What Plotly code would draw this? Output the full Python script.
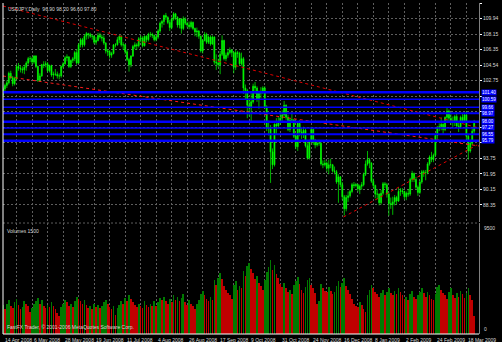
import plotly.graph_objects as go

# ---------------- data ----------------
bar_index = list(range(245))

opens = [101.6,101.1,101.8,102.2,102.5,103.6,103.1,102.4,103.0,104.4,
104.2,104.1,104.0,104.3,104.8,105.3,105.3,104.9,105.6,104.4,
102.8,103.3,104.6,104.6,104.7,103.9,104.5,103.4,103.5,103.5,
103.3,103.3,104.4,104.7,105.4,105.5,104.4,105.1,105.3,106.0,
104.8,106.9,107.5,106.9,107.9,108.2,108.1,107.9,107.9,107.2,
107.4,108.0,107.8,107.7,107.1,106.2,106.1,105.7,105.9,106.9,
106.9,107.5,107.9,106.9,106.9,106.1,105.2,104.6,105.6,106.7,
106.9,106.8,107.6,107.7,106.8,107.9,107.5,108.1,108.1,108.0,
107.5,107.8,108.5,109.4,109.6,110.3,110.1,109.5,108.9,109.9,
110.5,110.1,109.2,109.9,108.8,109.9,109.4,109.2,109.0,109.5,
108.8,108.4,108.5,107.9,106.2,107.4,108.1,107.2,107.8,107.0,
107.8,104.9,104.8,104.6,105.8,107.4,105.3,105.7,106.0,106.3,
106.0,104.3,106.0,105.9,104.7,105.3,101.9,101.6,99.9,99.6,
100.3,102.1,101.9,100.6,101.3,101.5,101.9,99.7,97.2,97.3,
94.5,93.0,97.7,97.5,98.0,98.4,98.8,99.9,98.5,97.1,
98.2,98.2,96.3,95.1,97.8,96.8,96.5,97.0,95.2,93.8,
95.8,97.1,95.6,95.3,95.5,95.5,93.1,93.0,93.2,92.6,
93.0,93.0,92.3,92.2,91.0,91.6,90.7,89.3,87.9,89.2,
89.4,89.9,90.7,90.6,90.7,90.2,90.5,90.7,91.9,93.1,
93.6,93.2,91.1,90.6,89.6,89.6,88.6,89.7,90.8,90.7,
89.6,88.5,88.4,88.7,89.2,88.8,89.9,90.0,89.9,89.3,
89.7,89.6,91.3,92.0,91.3,90.4,89.8,91.0,92.2,92.1,
92.1,93.1,93.9,93.6,94.1,96.4,97.3,97.4,97.7,97.1,
98.5,99.2,98.4,98.1,97.9,98.6,97.5,97.4,98.5,98.1,
98.8,96.3,94.6,95.5,96.9]

highs = [101.8,102.0,102.4,102.8,103.8,103.9,103.3,103.2,104.6,104.8,
104.5,104.4,104.6,105.0,105.5,105.6,105.5,105.7,105.7,104.5,
103.6,104.7,105.0,105.0,104.9,104.6,104.6,103.8,104.1,103.8,
103.6,104.5,104.9,105.6,105.8,105.6,105.2,105.5,106.2,106.4,
107.1,107.7,107.7,108.1,108.4,108.3,108.3,108.1,108.0,107.8,
108.3,108.3,108.1,108.0,107.2,106.4,106.3,106.1,107.0,107.1,
107.8,108.0,108.0,107.2,107.0,106.3,105.4,105.7,106.9,107.2,
107.1,107.8,108.0,107.9,108.0,108.0,108.3,108.4,108.3,108.1,
108.0,108.7,109.6,109.8,110.4,110.6,110.2,109.8,110.1,110.7,
110.6,110.2,110.0,110.0,110.2,110.1,109.6,109.6,109.7,109.6,
108.9,108.9,108.6,108.0,107.5,108.4,108.3,108.0,108.0,108.0,
107.9,105.8,105.3,106.2,108.0,107.5,106.0,106.4,106.6,106.4,
106.1,106.3,106.2,106.1,106.0,105.5,102.3,101.8,100.7,101.4,
102.4,102.6,102.1,101.6,102.0,102.1,102.1,99.9,98.1,97.6,
94.9,97.8,98.4,98.6,99.1,99.3,100.4,100.0,98.8,98.4,
99.1,98.3,96.5,97.9,98.2,97.3,97.4,97.2,95.5,95.9,
97.4,97.2,96.0,95.8,95.9,95.6,93.5,93.6,93.4,93.6,
93.7,93.1,92.8,92.4,91.9,91.7,91.0,89.5,89.5,89.9,
90.1,90.9,91.0,90.9,90.8,90.7,91.0,92.1,93.5,94.6,
93.8,93.3,91.4,90.7,90.2,89.7,90.1,91.0,91.0,90.9,
89.8,89.2,89.3,89.5,89.4,90.4,90.3,90.3,90.0,89.9,
90.2,91.5,92.3,92.1,91.6,90.6,91.2,92.4,92.4,92.4,
93.3,94.1,94.5,94.3,96.5,97.5,97.8,98.5,97.8,98.6,
99.7,99.4,99.1,98.6,98.8,98.9,97.9,98.7,98.9,99.0,
99.2,96.6,95.9,97.3,98.2]

lows = [100.8,100.9,101.4,101.9,102.3,102.9,102.1,102.2,102.8,103.9,
103.7,103.6,103.5,103.9,104.6,104.9,104.6,104.7,104.2,102.6,
102.6,103.2,104.2,104.3,103.7,103.7,103.2,102.9,103.3,103.0,
102.9,103.1,104.2,104.6,105.0,104.2,104.2,104.8,105.0,104.6,
104.7,106.6,106.6,106.7,107.5,107.6,107.7,107.5,107.0,106.9,
107.3,107.6,107.3,106.9,105.9,105.6,105.3,105.4,105.8,106.6,
106.8,107.1,106.7,106.3,105.8,105.0,103.8,104.3,105.5,106.4,
106.3,106.6,107.2,106.6,106.7,107.2,107.3,107.8,107.7,107.3,
107.3,107.6,108.3,108.9,109.2,109.8,109.3,108.5,108.7,109.7,
109.8,108.9,108.8,108.2,108.6,109.2,108.9,108.7,108.8,108.6,
107.9,107.8,107.6,106.0,105.9,107.3,107.0,107.0,106.8,106.9,
104.6,104.0,104.3,103.5,105.6,105.1,105.0,105.4,105.8,105.5,
103.6,104.0,105.4,104.5,104.5,101.2,100.6,98.4,98.6,97.9,
100.1,101.2,100.3,99.5,100.7,101.2,99.5,96.9,96.4,90.9,
92.5,92.8,96.6,97.2,97.6,98.0,98.6,98.2,96.9,96.8,
97.9,96.1,94.8,94.6,96.3,96.0,96.1,95.0,93.6,93.6,
95.6,95.3,94.9,95.1,95.2,92.9,92.6,92.8,92.2,91.9,
92.6,92.1,91.9,90.8,88.6,90.4,88.9,87.1,87.6,88.7,
89.2,89.7,90.3,90.4,89.9,89.6,90.1,90.5,91.7,92.9,
92.6,90.9,90.3,89.1,89.0,88.3,88.4,89.5,90.3,89.2,
87.1,87.9,87.2,88.3,88.4,88.7,89.4,89.6,89.0,88.9,
89.3,89.4,91.0,91.0,90.2,89.4,89.6,90.8,91.6,91.2,
91.9,92.9,93.3,93.3,94.0,96.0,96.9,97.0,96.6,96.9,
98.0,98.0,97.6,97.4,97.5,97.4,96.8,97.2,97.8,97.9,
95.9,93.6,94.4,95.3,96.6]

closes = [101.1,101.8,102.2,102.5,103.6,103.1,102.4,103.0,104.4,104.2,
104.1,104.0,104.3,104.8,105.3,105.3,104.9,105.6,104.4,102.8,
103.3,104.6,104.6,104.7,103.9,104.5,103.4,103.5,103.5,103.3,
103.3,104.4,104.7,105.4,105.5,104.4,105.1,105.3,106.0,104.8,
106.9,107.5,106.9,107.9,108.2,108.1,107.9,107.9,107.2,107.4,
108.0,107.8,107.7,107.1,106.2,106.1,105.7,105.9,106.9,106.9,
107.5,107.9,106.9,106.9,106.1,105.2,104.6,105.6,106.7,106.9,
106.8,107.6,107.7,106.8,107.9,107.5,108.1,108.1,108.0,107.5,
107.8,108.5,109.4,109.6,110.3,110.1,109.5,108.9,109.9,110.5,
110.1,109.2,109.9,108.8,109.9,109.4,109.2,109.0,109.5,108.8,
108.4,108.5,107.9,106.2,107.4,108.1,107.2,107.8,107.0,107.8,
104.9,104.8,104.6,105.8,107.4,105.3,105.7,106.0,106.3,106.0,
104.3,106.0,105.9,104.7,105.3,101.9,101.6,99.9,99.6,100.3,
102.1,101.9,100.6,101.3,101.5,101.9,99.7,97.2,97.3,94.5,
93.0,97.7,97.5,98.0,98.4,98.8,99.9,98.5,97.1,98.2,
98.2,96.3,95.1,97.8,96.8,96.5,97.0,95.2,93.8,95.8,
97.1,95.6,95.3,95.5,95.5,93.1,93.0,93.2,92.6,93.0,
93.0,92.3,92.2,91.0,91.6,90.7,89.3,87.9,89.2,89.4,
89.9,90.7,90.6,90.7,90.2,90.5,90.7,91.9,93.1,93.6,
93.2,91.1,90.6,89.6,89.6,88.6,89.7,90.8,90.7,89.6,
88.5,88.4,88.7,89.2,88.8,89.9,90.0,89.9,89.3,89.7,
89.6,91.3,92.0,91.3,90.4,89.8,91.0,92.2,92.1,92.1,
93.1,93.9,93.6,94.1,96.4,97.3,97.4,97.7,97.1,98.5,
99.2,98.4,98.1,97.9,98.6,97.5,97.4,98.5,98.1,98.8,
96.3,94.6,95.5,96.9,97.8]

volumes = [2300,2500,2100,2600,2900,2400,2200,2700,3000,2500,
2100,2300,2800,2600,2400,1900,2200,2600,2800,3100,
2600,2900,2400,2200,2500,2300,2700,2400,2100,1800,
1500,2300,2600,2900,2700,2400,2600,2300,2800,3200,
3000,2800,2600,2900,2500,2200,2400,2100,2600,2300,
2500,2200,2400,2700,2900,2600,2300,2100,2400,1600,
2200,2500,2800,2600,3100,2800,3300,3000,2700,2500,
2300,2600,2400,2200,2800,2500,2300,2600,2400,2800,
2400,2700,3100,2900,3200,2800,2600,3000,2700,3300,
2900,3200,2800,3100,3400,2700,2500,2900,2600,2400,
2100,2600,2900,3400,3700,3300,3000,2800,3200,2900,
4600,4200,4800,5200,4700,4100,3800,3500,3300,3000,
4200,4500,3800,4100,3900,5400,5000,5800,6100,5600,
5200,4700,5000,4400,4100,3800,4600,5300,5700,6300,
5500,5900,5100,4800,4300,4000,4400,3900,3600,3800,
3400,4200,4500,4900,4300,3800,3500,4000,4600,4800,
4200,3900,3500,2600,2800,4300,3900,3700,3600,4000,
3700,3400,3600,4100,4500,4000,4400,4800,4100,3800,
3400,3000,2600,2400,2300,2700,2500,2100,1900,3300,
3800,4200,3900,3600,3400,3200,3500,3800,3300,3600,
3900,3500,3300,3700,3400,3900,3600,3300,3000,3200,
2900,3400,3700,3200,3000,3300,3600,3900,3500,3200,
3600,3300,3000,2900,3400,4000,4200,3800,3500,3300,
3000,3600,3900,3300,3100,3500,3200,3700,3400,3100,
3500,3900,3300,2900,1500]

date_label_bars = [1,16,32,48,64,80,96,112,128,144,160,176,192,208,224,240]
date_labels = ["14 Apr 2008","6 May 2008","28 May 2008","19 Jun 2008","11 Jul 2008",
               "4 Aug 2008","26 Aug 2008","17 Sep 2008","9 Oct 2008","31 Oct 2008",
               "24 Nov 2008","16 Dec 2008","8 Jan 2009","2 Feb 2009","24 Feb 2009",
               "18 Mar 2009"]

price_ticks = [111.75,109.94,108.15,106.35,104.54,102.75,100.95,99.15,97.35,95.55,
               93.75,91.95,90.15,88.35]
# scale labels hidden behind the level boxes on the right axis
covered_ticks = [100.95,99.15,97.35,95.55]

level_prices = [101.40,100.59,99.66,98.97,98.00,97.27,96.55,95.79]
level_widths = [2.5,1.5,1.5,2,2.5,1.5,2,2.5]

trend_lines = {
    "A": ([1,246.5],[111.40,97.27]),
    "B": ([1,246.5],[103.29,95.18]),
    "C": ([176.6,245.5],[86.95,95.30]),
}
trend_colors = {"A":"#e00000","B":"#ff1a1a","C":"#e00000"}

volume_max = 9500
symbol_title = "USDJPY,Daily"
copyright_text = "FastFX Trader, \u00a9 2001-2006 MetaQuotes Software Corp."

# ---------------- figure ----------------
FONT = "Liberation Sans"
TXT = "#d8d8d8"
GRID = "#5e5e5e"
X_RANGE = [1.0, 246.5]
main_dom = [0.3384, 1.0]
vol_dom = [0.0, 0.3353]

vol_colors = ["#007a00"]
for k in range(1, len(volumes)):
    vol_colors.append("#007a00" if volumes[k] > volumes[k-1] else "#c00000")

fig = go.Figure()
fig.add_trace(go.Candlestick(
    x=bar_index, open=opens, high=highs, low=lows, close=closes,
    increasing=dict(line=dict(color="#00ff00", width=0.7), fillcolor="#00ff00"),
    decreasing=dict(line=dict(color="#00ff00", width=0.7), fillcolor="#00ff00"),
    whiskerwidth=0, xaxis="x", yaxis="y", hoverinfo="skip", showlegend=False))

for name, (xs, ys) in trend_lines.items():
    fig.add_trace(go.Scatter(x=xs, y=ys, mode="lines", xaxis="x", yaxis="y",
                             line=dict(color=trend_colors[name], width=1, dash="3px,3px"),
                             hoverinfo="skip", showlegend=False))

fig.add_trace(go.Bar(x=bar_index, y=volumes, marker=dict(color=vol_colors, line=dict(width=0)),
                     width=0.35, xaxis="x2", yaxis="y2", hoverinfo="skip", showlegend=False))

shapes = []
for p, w in zip(level_prices, level_widths):
    shapes.append(dict(type="line", xref="paper", yref="y", x0=0, x1=1, y0=p, y1=p,
                       line=dict(color="#0000ff", width=w), layer="above"))
# panel separator
shapes.append(dict(type="line", xref="paper", yref="paper", x0=0, x1=1,
                   y0=vol_dom[1], y1=vol_dom[1], line=dict(color=GRID, width=1, dash="2px,2px")))
# frame lines
shapes.append(dict(type="line", xref="paper", yref="paper", x0=0, x1=0, y0=0, y1=1,
                   line=dict(color="#ffffff", width=1)))
shapes.append(dict(type="line", xref="paper", yref="paper", x0=0, x1=1, y0=0, y1=0,
                   line=dict(color="#ffffff", width=1)))

annotations = []
for b, t in zip(date_label_bars, date_labels):
    annotations.append(dict(x=b, y=0, xref="x", yref="paper", text=t, showarrow=False,
                            xanchor="left", yanchor="top", yshift=-1,
                            font=dict(family=FONT, size=5, color=TXT)))
for p in level_prices:
    annotations.append(dict(x=1, y=p, xref="paper", yref="y", text=f"{p:.2f}", showarrow=False,
                            xanchor="left", yanchor="middle", xshift=2, height=5,
                            bgcolor="#0000ff", borderpad=0,
                            font=dict(family=FONT, size=4.5, color="#ffffff")))
last = len(closes) - 1
annotations.append(dict(x=0, y=1, xref="paper", yref="paper", xanchor="left", yanchor="top",
                        xshift=3, yshift=-1, showarrow=False,
                        text=f"{symbol_title}  {opens[last]:.2f} {highs[last]:.2f} {lows[last]:.2f} {closes[last]:.2f}",
                        font=dict(family=FONT, size=5, color=TXT)))
annotations.append(dict(x=0, y=vol_dom[1], xref="paper", yref="paper", xanchor="left", yanchor="top",
                        xshift=2, yshift=-3, showarrow=False, text=f"Volumes {volumes[last]}",
                        font=dict(family=FONT, size=5, color=TXT)))
annotations.append(dict(x=0, y=0, xref="paper", yref="paper", xanchor="left", yanchor="bottom",
                        xshift=2, yshift=2, showarrow=False, text=copyright_text,
                        font=dict(family=FONT, size=5, color=TXT)))
annotations.append(dict(x=1, y=vol_dom[1], xref="paper", yref="paper", xanchor="left", yanchor="top",
                        xshift=3, showarrow=False, text=str(volume_max),
                        font=dict(family=FONT, size=5, color=TXT)))
annotations.append(dict(x=1, y=0, xref="paper", yref="paper", xanchor="left", yanchor="bottom",
                        xshift=3, showarrow=False, text="0",
                        font=dict(family=FONT, size=5, color=TXT)))

grid_vals = list(range(8, 247, 8))
tick_text = ["" if v in covered_ticks else f"{v:.2f}" for v in price_ticks]

fig.update_layout(
    width=502, height=342,
    margin=dict(l=3, r=18, t=3, b=8),
    paper_bgcolor="#000000", plot_bgcolor="#000000",
    showlegend=False, bargap=0,
    shapes=shapes, annotations=annotations,
    xaxis=dict(domain=[0, 1], range=X_RANGE, anchor="y", showticklabels=False,
               tickvals=grid_vals, showgrid=True, gridcolor=GRID, griddash="2px,2px",
               zeroline=False, rangeslider=dict(visible=False), ticks=""),
    xaxis2=dict(domain=[0, 1], range=X_RANGE, anchor="y2", matches="x", showticklabels=False,
                tickvals=grid_vals, showgrid=True, gridcolor=GRID, griddash="2px,2px",
                zeroline=False, ticks=""),
    yaxis=dict(domain=main_dom, range=[86.37, 111.75], side="right", anchor="x",
               tickvals=price_ticks, ticktext=tick_text,
               tickfont=dict(family=FONT, size=5, color=TXT), ticks="outside", ticklen=2,
               tickcolor="#ffffff", showgrid=True, gridcolor=GRID, griddash="2px,2px",
               zeroline=False, showline=True, linecolor="#808080", linewidth=1),
    yaxis2=dict(domain=vol_dom, range=[0, volume_max], side="right", anchor="x2",
                showticklabels=False, showgrid=False, zeroline=False,
                showline=True, linecolor="#808080", linewidth=1),
)

fig.write_html("out.html")
